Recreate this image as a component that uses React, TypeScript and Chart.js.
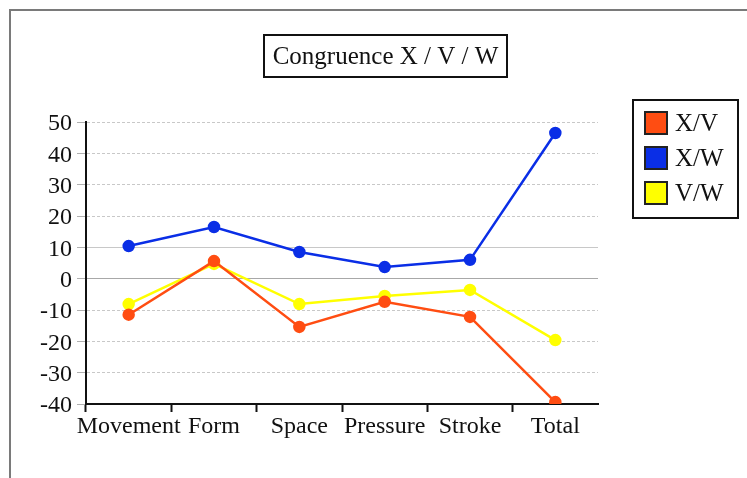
import React, { useEffect, useRef } from "react";
import { Chart, registerables } from "chart.js";

Chart.register(...registerables);

const categories = ["Movement", "Form", "Space", "Pressure", "Stroke", "Total"];
const xvValues = [-11.5, 5.6, -15.4, -7.4, -12.2, -39.4];
const xwValues = [10.4, 16.5, 8.5, 3.7, 6.0, 46.5];
const vwValues = [-8.1, 4.7, -8.1, -5.5, -3.6, -19.6];
const seriesLabels = ["X/V", "X/W", "V/W"];
const seriesColors = ["#ff4d12", "#0a2ee6", "#ffff00"];
const titleText = "Congruence X / V / W";
const yMin = -40;
const yMax = 50;
const yStep = 10;

const FONT = "'Liberation Serif', 'Times New Roman', serif";

const decorPlugin = {
  id: "decor",
  beforeDraw(chart: any) {
    const ctx = chart.ctx;
    ctx.save();
    ctx.strokeStyle = "#7a7a7a";
    ctx.lineWidth = 2;
    ctx.beginPath();
    ctx.moveTo(10, chart.height);
    ctx.lineTo(10, 10);
    ctx.lineTo(chart.width, 10);
    ctx.stroke();
    ctx.restore();
  },
  afterDraw(chart: any) {
    const ctx = chart.ctx;
    ctx.save();
    // title box
    ctx.strokeStyle = "#111";
    ctx.lineWidth = 2;
    ctx.strokeRect(264, 35, 243, 42);
    ctx.fillStyle = "#111";
    ctx.font = `25px ${FONT}`;
    ctx.textAlign = "center";
    ctx.textBaseline = "middle";
    ctx.fillText(titleText, 385.5, 57);
    // legend box
    ctx.strokeRect(633, 100, 105, 118);
    ctx.textAlign = "left";
    seriesLabels.forEach((lab, i) => {
      const y = 112 + i * 35;
      ctx.fillStyle = seriesColors[i];
      ctx.fillRect(645, y, 22, 22);
      ctx.lineWidth = 2;
      ctx.strokeStyle = "#222";
      ctx.strokeRect(645, y, 22, 22);
      ctx.fillStyle = "#111";
      ctx.font = `25px ${FONT}`;
      ctx.fillText(lab, 675, y + 12);
    });
    ctx.restore();
  },
};

export default function App() {
  const ref = useRef<HTMLCanvasElement | null>(null);
  useEffect(() => {
    if (!ref.current) return;
    const datasets = [xvValues, xwValues, vwValues].map((vals, i) => ({
      label: seriesLabels[i],
      data: vals,
      borderColor: seriesColors[i],
      backgroundColor: seriesColors[i],
      pointBackgroundColor: seriesColors[i],
      pointBorderColor: seriesColors[i],
      pointRadius: 5,
      borderWidth: 2.5,
      tension: 0,
    }));
    const chart = new Chart(ref.current, {
      type: "line",
      data: { labels: categories, datasets },
      plugins: [decorPlugin],
      options: {
        responsive: false,
        animation: false,
        layout: { padding: { top: 122, right: 149, bottom: 0, left: 0 } },
        plugins: {
          legend: { display: false },
          title: { display: false },
          tooltip: { enabled: false },
        },
        scales: {
          x: {
            type: "category",
            offset: true,
            afterFit: (s: any) => {
              s.height = 74;
            },
            grid: {
              display: true,
              offset: true,
              drawOnChartArea: false,
              drawTicks: true,
              tickLength: 8,
              tickColor: (c: any) => (c.tick ? "#111" : "rgba(0,0,0,0)"),
              tickWidth: 2,
              color: "#111",
            },
            border: { display: true, color: "#111", width: 2 },
            ticks: {
              color: "#111",
              font: { family: FONT, size: 24 },
              padding: 0,
              maxRotation: 0,
              autoSkip: false,
            },
          },
          y: {
            min: yMin,
            max: yMax,
            afterFit: (s: any) => {
              s.width = 86;
            },
            ticks: {
              stepSize: yStep,
              autoSkip: false,
              color: "#111",
              font: { family: FONT, size: 24 },
              padding: 5,
              labelOffset: 2,
            },
            grid: {
              color: (c: any) =>
                c.tick && c.tick.value === 0 ? "#a8a8a8" : "#c8c8c8",
              lineWidth: 1,
              tickLength: 9,
              tickColor: "#b0b0b0",
            },
            border: {
              display: true,
              color: "#111",
              width: 2,
              dash: (c: any) =>
                c.tick && (c.tick.value === 0 || c.tick.value === 10) ? [] : [3, 2],
            },
          },
        },
      },
    });
    return () => chart.destroy();
  }, []);
  return (
    <div style={{ position: "absolute", left: 0, top: 0, width: 747, height: 478, background: "#fff" }}>
      <canvas ref={ref} width={747} height={478} style={{ display: "block" }} />
    </div>
  );
}
